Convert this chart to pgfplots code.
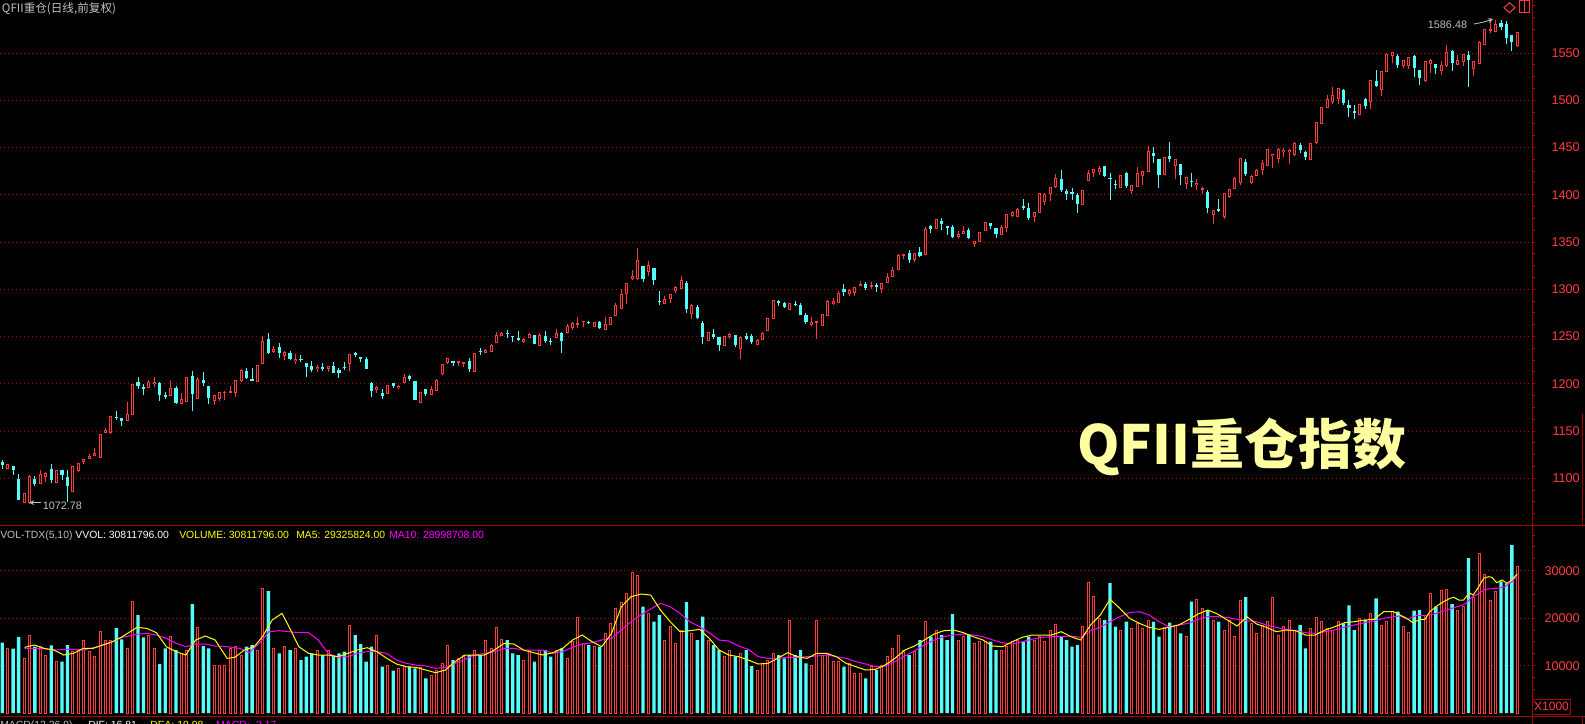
\documentclass[border=0pt]{standalone}
\usepackage{pgfplots}
\pgfplotsset{compat=1.18}
\usepackage{pgfplotstable}
\usepackage{fontspec}
\setmainfont{Liberation Sans}
\newfontfamily\cjk{Noto Sans CJK SC}
\definecolor{cr}{RGB}{255,60,60}
\definecolor{cc}{RGB}{84,252,252}
\definecolor{ax}{RGB}{170,0,0}
\definecolor{gr}{RGB}{160,0,0}
\definecolor{lab}{RGB}{255,60,60}
\definecolor{lg}{RGB}{192,192,192}
\definecolor{by}{RGB}{255,255,160}
\definecolor{ma5}{RGB}{255,255,0}
\definecolor{ma10}{RGB}{255,0,255}
\pgfplotstableread{
i o h l c
1 1109.5 1115.1 1109.5 1115.1
4 1074.2 1084.4 1074.2 1084.4
5 1074.2 1103.5 1072.8 1102.4
7 1094.0 1108.8 1094.0 1104.5
8 1101.7 1106.7 1096.1 1105.3
10 1095.0 1108.8 1095.0 1108.8
13 1085.5 1113.0 1085.5 1113.0
14 1107.7 1116.2 1106.7 1116.2
15 1117.3 1120.8 1115.1 1120.1
16 1120.8 1125.7 1120.8 1124.0
17 1124.0 1132.1 1124.0 1127.1
18 1121.8 1146.9 1121.8 1146.9
19 1148.3 1152.9 1148.3 1151.1
20 1147.6 1166.3 1146.9 1165.6
23 1160.6 1180.7 1160.6 1168.0
24 1167.0 1199.8 1167.0 1199.8
27 1195.5 1203.7 1195.5 1201.9
28 1199.4 1206.8 1196.9 1201.9
31 1187.1 1204.0 1187.1 1195.5
33 1179.0 1189.9 1179.0 1183.9
34 1181.1 1207.2 1181.1 1207.2
36 1183.9 1207.2 1183.9 1205.4
39 1182.1 1188.1 1177.6 1188.1
40 1184.3 1191.3 1181.8 1191.3
41 1189.9 1192.4 1182.8 1191.7
42 1190.6 1197.7 1190.6 1192.7
43 1189.9 1204.0 1186.0 1204.0
44 1202.9 1215.7 1201.9 1214.6
47 1201.9 1219.9 1201.9 1219.9
48 1221.3 1250.2 1221.3 1244.9
50 1233.3 1239.7 1232.6 1237.2
52 1229.8 1234.4 1225.2 1233.7
54 1224.1 1231.2 1221.0 1226.3
58 1215.7 1219.9 1212.5 1218.1
60 1215.7 1218.8 1212.5 1218.8
64 1221.0 1231.5 1213.9 1231.5
69 1193.1 1197.3 1190.3 1196.6
71 1189.6 1198.7 1189.6 1198.7
73 1195.6 1198.4 1194.5 1198.0
74 1200.9 1210.4 1200.9 1207.2
77 1180.0 1191.3 1180.0 1191.3
79 1188.5 1197.3 1188.5 1194.5
80 1192.4 1205.1 1192.4 1204.0
81 1210.4 1221.0 1209.3 1221.0
82 1222.0 1227.3 1221.0 1227.3
84 1222.0 1224.1 1218.8 1224.1
85 1221.0 1223.1 1218.1 1223.1
87 1212.5 1232.6 1212.5 1232.6
89 1232.3 1236.8 1232.3 1235.8
90 1233.7 1242.5 1233.7 1241.1
91 1243.5 1254.5 1243.5 1251.6
92 1250.6 1254.8 1250.6 1254.1
96 1244.5 1248.1 1243.5 1247.4
97 1248.8 1253.7 1248.1 1253.0
99 1239.6 1253.4 1239.6 1251.6
102 1248.8 1257.9 1248.1 1253.7
104 1254.1 1263.2 1254.1 1261.1
105 1259.0 1265.3 1256.9 1264.3
106 1262.2 1270.6 1259.3 1264.3
107 1265.0 1266.4 1260.1 1266.4
109 1260.1 1265.3 1260.1 1265.3
111 1257.2 1270.6 1257.2 1263.2
112 1262.5 1270.6 1262.5 1270.6
113 1271.7 1285.1 1271.7 1283.3
114 1279.1 1300.3 1279.1 1295.0
115 1295.0 1306.6 1284.4 1306.6
116 1310.8 1320.4 1309.8 1314.4
117 1310.8 1343.6 1309.8 1331.0
119 1318.2 1329.9 1314.0 1325.7
122 1284.4 1292.9 1284.4 1289.7
123 1289.7 1294.6 1285.4 1294.6
124 1298.1 1303.4 1296.0 1302.4
125 1300.3 1314.0 1300.3 1309.8
127 1273.8 1284.4 1268.5 1283.3
130 1245.6 1254.8 1245.6 1254.8
133 1240.3 1250.5 1240.3 1250.5
134 1249.5 1253.7 1247.7 1252.6
136 1237.1 1250.5 1226.2 1249.5
139 1241.4 1247.4 1241.4 1246.3
140 1246.7 1254.8 1246.7 1253.7
141 1256.2 1269.6 1256.2 1269.6
142 1268.9 1288.7 1268.9 1288.7
145 1278.4 1285.5 1278.4 1285.5
149 1262.2 1270.7 1261.2 1265.4
150 1264.3 1266.4 1247.4 1266.4
151 1261.2 1273.9 1261.2 1273.9
152 1271.7 1288.7 1271.7 1287.6
153 1284.4 1290.8 1283.4 1287.6
154 1285.5 1298.2 1285.5 1296.1
156 1295.0 1300.3 1292.9 1299.2
157 1296.1 1302.4 1292.9 1302.4
158 1303.5 1308.8 1303.5 1305.6
160 1302.4 1307.7 1300.3 1304.5
162 1300.3 1306.7 1296.1 1306.7
163 1306.7 1317.2 1306.7 1313.0
164 1313.0 1323.6 1313.0 1320.4
165 1320.4 1337.3 1320.4 1336.3
166 1335.2 1337.3 1332.0 1337.3
168 1331.0 1338.4 1328.9 1338.4
170 1336.3 1365.9 1336.3 1363.8
172 1363.8 1374.4 1363.8 1374.4
176 1355.3 1361.7 1354.3 1358.5
177 1358.5 1367.0 1358.5 1361.7
179 1347.9 1351.1 1344.7 1351.1
180 1350.0 1360.6 1350.0 1360.6
181 1362.0 1371.2 1362.0 1371.2
184 1357.8 1368.0 1357.8 1365.9
185 1364.8 1379.7 1360.6 1379.7
186 1377.5 1382.8 1376.5 1381.8
187 1376.8 1386.0 1376.8 1384.9
190 1376.3 1381.6 1371.0 1381.6
191 1380.5 1401.7 1380.5 1401.7
192 1392.2 1401.7 1389.0 1400.6
193 1400.6 1408.0 1393.2 1408.0
194 1408.0 1421.8 1407.0 1417.6
199 1389.0 1404.9 1389.0 1404.9
200 1414.4 1426.0 1414.4 1422.8
201 1422.8 1427.1 1418.6 1427.1
202 1423.9 1430.3 1420.7 1428.1
206 1407.0 1420.7 1407.0 1420.7
208 1403.8 1410.1 1400.6 1410.1
209 1408.0 1429.2 1408.0 1422.8
210 1419.7 1425.0 1410.1 1425.0
211 1423.9 1451.4 1423.9 1446.1
214 1420.7 1439.8 1420.7 1439.8
216 1430.3 1437.7 1416.5 1437.7
218 1411.2 1418.6 1405.9 1418.6
220 1410.1 1416.5 1404.9 1412.3
221 1404.9 1408.0 1400.6 1407.0
223 1378.4 1383.7 1368.9 1383.7
225 1376.3 1401.7 1374.2 1401.7
226 1397.4 1405.9 1396.4 1405.9
227 1405.9 1418.6 1405.9 1417.6
228 1412.3 1438.7 1410.1 1438.7
230 1412.3 1420.7 1411.2 1419.7
231 1419.7 1427.1 1419.7 1426.0
232 1426.0 1436.6 1420.7 1433.4
233 1430.3 1448.2 1430.3 1448.2
234 1440.8 1443.0 1428.1 1443.0
235 1437.7 1449.3 1433.4 1448.2
236 1445.6 1449.9 1440.4 1447.8
237 1445.6 1448.8 1433.0 1447.8
238 1442.5 1456.2 1441.4 1455.2
241 1437.2 1455.2 1437.2 1455.2
242 1455.2 1477.4 1454.1 1477.4
243 1475.3 1493.3 1475.3 1493.3
244 1492.2 1506.0 1492.2 1501.7
245 1498.6 1514.4 1496.4 1506.0
246 1501.7 1513.4 1496.4 1513.4
250 1484.8 1496.4 1484.8 1496.4
252 1498.6 1521.8 1491.1 1521.8
254 1511.2 1531.4 1504.9 1531.4
255 1530.3 1550.4 1530.3 1549.3
256 1547.2 1551.5 1539.8 1551.5
258 1536.6 1543.0 1534.5 1543.0
259 1536.6 1546.2 1533.5 1546.2
262 1520.8 1541.9 1519.7 1541.9
263 1538.8 1544.1 1529.2 1543.0
265 1531.4 1541.9 1527.1 1537.7
266 1536.6 1558.9 1535.6 1551.5
268 1537.7 1548.3 1537.7 1543.0
269 1540.9 1549.3 1536.6 1549.3
271 1533.5 1541.9 1526.1 1541.9
272 1538.8 1563.1 1538.8 1562.0
273 1558.9 1575.8 1558.9 1575.8
274 1573.6 1586.5 1570.8 1575.1
275 1572.6 1584.9 1572.6 1580.7
279 1557.4 1571.9 1556.0 1571.9
}\redt
\pgfplotstableread{
i o h l c
0 1117.6 1119.4 1109.8 1114.1
2 1113.0 1113.0 1103.5 1108.8
3 1099.3 1104.5 1077.0 1077.0
6 1099.3 1102.4 1092.2 1094.0
9 1109.8 1115.1 1095.0 1098.2
11 1108.8 1108.8 1098.2 1103.5
12 1101.4 1108.8 1075.3 1092.2
21 1165.2 1171.2 1161.7 1163.5
22 1163.8 1163.8 1155.3 1160.6
25 1201.9 1206.8 1194.5 1197.7
26 1196.9 1199.4 1188.1 1194.8
29 1200.8 1201.9 1182.1 1188.1
30 1188.1 1191.3 1184.3 1186.0
32 1195.5 1197.7 1178.6 1180.0
35 1208.2 1213.5 1171.6 1189.2
37 1204.0 1212.5 1197.7 1200.8
38 1197.7 1197.7 1179.0 1185.0
45 1213.5 1216.4 1205.1 1206.5
46 1205.1 1216.7 1202.9 1202.9
49 1247.4 1253.8 1231.5 1232.6
51 1238.9 1242.8 1227.3 1232.6
53 1232.6 1234.4 1225.2 1226.3
55 1226.3 1230.5 1223.4 1225.2
56 1222.4 1222.4 1207.6 1218.1
57 1218.8 1224.1 1212.5 1214.6
59 1218.1 1222.0 1213.6 1215.7
61 1218.8 1223.1 1211.8 1211.8
62 1214.3 1216.7 1206.2 1211.8
63 1218.1 1223.1 1214.6 1216.7
65 1232.3 1233.7 1228.7 1230.5
66 1228.4 1228.4 1223.4 1226.3
67 1226.3 1228.4 1215.7 1215.7
68 1200.9 1201.9 1186.0 1192.4
70 1190.6 1194.5 1183.9 1187.1
72 1200.9 1200.9 1195.9 1198.0
75 1208.3 1209.3 1203.0 1205.1
76 1203.0 1203.0 1182.9 1182.9
78 1194.5 1194.5 1187.1 1189.2
83 1224.1 1224.1 1218.8 1222.0
86 1224.1 1227.3 1212.5 1215.7
88 1235.1 1237.9 1230.5 1233.7
93 1254.1 1256.9 1248.8 1252.7
94 1250.6 1250.6 1244.2 1249.2
95 1248.8 1255.8 1245.6 1246.7
98 1251.6 1251.6 1242.4 1242.4
100 1250.5 1255.8 1243.5 1245.2
101 1245.2 1248.8 1241.4 1244.5
103 1253.7 1254.8 1232.2 1245.2
108 1265.0 1266.4 1262.9 1263.9
110 1265.3 1266.4 1257.9 1259.0
118 1324.6 1324.6 1307.7 1310.8
120 1322.5 1322.5 1304.5 1309.8
121 1287.6 1298.1 1283.3 1286.2
126 1306.6 1308.7 1274.9 1279.1
128 1281.2 1283.3 1268.5 1269.6
129 1264.3 1266.4 1242.4 1249.5
131 1252.6 1257.9 1247.7 1249.8
132 1249.5 1249.5 1235.0 1241.0
135 1251.6 1251.6 1238.9 1241.0
137 1250.5 1253.7 1246.3 1247.7
138 1250.5 1252.6 1242.4 1244.5
143 1288.0 1288.7 1282.3 1285.1
144 1285.5 1286.5 1280.2 1281.3
146 1284.4 1287.6 1282.3 1283.4
147 1283.4 1285.5 1272.8 1272.8
148 1272.8 1274.9 1263.3 1265.4
155 1300.3 1305.6 1292.9 1297.1
159 1305.6 1307.7 1299.6 1301.4
161 1304.5 1306.7 1297.1 1302.4
167 1338.4 1341.6 1327.8 1331.0
169 1339.5 1344.7 1334.2 1335.2
171 1367.0 1368.0 1359.6 1364.1
173 1372.3 1375.4 1362.7 1369.1
174 1367.0 1367.0 1357.4 1364.8
175 1365.9 1368.0 1354.3 1355.3
178 1362.7 1364.8 1353.2 1354.3
182 1370.1 1370.1 1363.8 1366.6
183 1364.8 1364.8 1354.3 1358.5
188 1388.5 1395.0 1383.5 1386.3
189 1385.8 1391.1 1373.1 1375.2
195 1416.5 1426.0 1402.7 1404.9
196 1403.8 1405.9 1394.3 1400.6
197 1402.7 1407.0 1394.3 1400.6
198 1399.6 1401.7 1380.5 1390.0
203 1430.3 1430.3 1418.6 1419.7
204 1417.6 1422.8 1394.3 1416.5
205 1411.2 1415.4 1405.9 1410.1
207 1422.8 1423.9 1407.0 1409.1
212 1444.0 1450.4 1433.4 1440.8
213 1437.7 1437.7 1407.0 1420.7
215 1440.8 1455.6 1434.5 1437.7
217 1432.4 1432.4 1410.1 1420.7
219 1414.4 1422.8 1408.0 1413.3
222 1402.7 1404.9 1380.5 1385.8
224 1384.7 1395.3 1381.6 1382.6
229 1434.5 1437.7 1419.7 1421.8
239 1453.1 1455.2 1444.6 1447.8
240 1445.6 1446.7 1437.2 1440.4
247 1511.2 1512.3 1495.4 1497.5
248 1495.4 1500.7 1482.7 1492.2
249 1489.0 1495.4 1480.6 1486.9
251 1501.7 1502.8 1491.1 1494.3
253 1520.8 1532.4 1514.4 1515.5
257 1547.2 1549.3 1534.5 1537.7
260 1547.2 1548.3 1525.0 1534.5
261 1532.4 1532.4 1516.5 1523.9
264 1538.8 1538.8 1528.2 1534.5
267 1552.5 1553.6 1531.4 1539.8
270 1548.3 1552.5 1514.4 1543.0
276 1582.1 1584.9 1574.3 1577.2
277 1580.7 1584.2 1559.2 1565.5
278 1569.0 1569.0 1552.4 1562.0
}\cynt
\pgfplotstableread{
i v
1 13581
4 11616
5 16459
7 14143
8 12248
10 10844
13 13090
14 13511
15 15406
16 12950
17 11897
18 17301
19 15406
20 15406
23 13722
24 23617
27 16459
28 13651
31 16108
33 12599
34 13301
36 18073
39 10142
40 10142
41 10142
42 13651
43 14002
44 12248
47 13301
48 26284
50 13651
52 14143
54 13651
58 13301
60 13301
64 18564
69 16459
71 10142
73 9441
74 9792
77 9651
79 8037
80 8949
81 10493
82 14353
84 11546
85 12248
87 13301
89 15406
90 13651
91 18073
92 15546
96 11195
97 13301
99 13301
102 13301
104 11546
105 15055
106 20178
107 14704
109 14002
111 16810
112 18915
113 22073
114 23266
115 25231
116 29653
117 29091
119 21020
122 15406
123 18213
124 14704
125 17511
127 16810
130 15406
133 11897
134 13301
136 12599
139 9090
140 10493
141 11195
142 12599
145 19617
149 10142
150 19617
151 12248
152 12599
153 10844
154 10844
156 10493
157 8388
158 8388
160 9792
162 10142
163 11897
164 13651
165 16459
166 13301
168 12950
170 19266
172 17511
176 15406
177 16108
179 14704
180 15055
181 15055
184 13301
185 14002
186 15055
187 15406
190 15406
191 16248
192 15055
193 17511
194 18704
199 18213
200 27617
201 24529
202 19968
206 17511
208 17862
209 18915
210 17862
211 19617
214 18073
216 18564
218 16108
220 24038
221 22073
223 19617
225 17511
226 19617
227 16108
228 23828
230 18915
231 16810
232 18564
233 19266
234 24389
235 16459
236 18213
237 19617
238 17511
241 17862
242 20178
243 19266
244 17862
245 17511
246 19266
250 19968
252 21020
254 18564
255 19266
256 21512
258 18358
259 17031
262 20674
263 25242
265 25937
266 26084
268 21726
269 22568
271 24400
272 33726
273 29305
274 23832
275 25726
279 30812
}\redv
\pgfplotstableread{
i v
0 14845
2 13581
3 16038
6 14002
9 14283
11 10844
12 14353
21 17932
22 15546
25 20669
26 15967
29 10353
30 13651
32 13301
35 22985
37 14143
38 13651
45 14002
46 14353
49 25722
51 12599
53 13301
55 11195
56 11897
57 12599
59 12248
61 12248
62 12599
63 12950
65 16459
66 14564
67 10844
68 14002
70 9792
72 8949
75 9792
76 9441
78 7335
83 11195
86 12248
88 12248
93 15406
94 12599
95 12248
98 10844
100 13301
101 11897
103 13651
108 14353
110 14002
118 22424
120 19266
121 20669
126 23407
128 15406
129 20319
131 14353
132 13301
135 11897
137 13301
138 9932
143 12248
144 11546
146 12248
147 13301
148 10493
155 9792
159 7335
161 9090
167 12248
169 15406
171 16108
173 16459
174 15406
175 20880
178 16459
182 15055
183 13301
188 15055
189 16108
195 16108
196 15406
197 14002
198 14353
203 19617
204 27407
205 18213
207 19266
212 19266
213 16108
215 19055
217 16810
219 23477
222 21722
224 19266
229 24459
239 18564
240 13651
247 18915
248 22705
249 17511
251 19617
253 24178
257 21371
260 21579
261 21726
264 22421
267 22989
270 32674
276 27768
277 27347
278 35410
}\cynv
\pgfplotsset{
  panel/.style={scale only axis, width=1149pt, xmin=-0.4236, xmax=281.71,
    axis x line=none, axis y line*=right,
    axis line style={draw=ax, line width=0.75pt},
    tick style={draw=ax, line width=0.75pt},
    tick align=outside, major tick length=2.25pt, minor tick length=2.25pt,
    ymajorgrids, grid style={draw=gr, line width=0.75pt, dash pattern=on 0.75pt off 2.25pt},
    yticklabel pos=right,
    yticklabel style={anchor=east, inner sep=0pt, xshift=33.75pt, text=lab, font=\fontsize{9.5}{10}\selectfont},
    /pgf/number format/1000 sep={}, /pgf/number format/assume math mode=true,
    scaled y ticks=false},
  wick/.style={forget plot, draw=none, mark=none, error bars/.cd, y dir=plus, y explicit, error mark=none, error bar style={line width=0.75pt, draw=#1}},
  body/.style 2 args={forget plot, draw=none, mark=none, error bars/.cd, y dir=plus, y explicit, error mark=none, error bar style={line width=#2, draw=#1}},
}
\begin{document}
\begin{tikzpicture}
\path[use as bounding box, fill=black] (0,0) rectangle (1188.75pt,-543pt);
% price panel
\begin{axis}[panel, at={(0pt,0pt)}, anchor=north west, height=394.275pt,
  ymin=1049.8, ymax=1606.1, ytick={1100,1150,...,1550}, minor ytick={1062.5,1075,...,1600}]
\addplot[wick=cr] table[x=i, y=l, y error plus expr=\thisrow{h}-\thisrow{l}, y error minus expr=0] \redt;
\addplot[wick=cc] table[x=i, y=l, y error plus expr=\thisrow{h}-\thisrow{l}, y error minus expr=0] \cynt;
\addplot[body={cr}{2.25pt}] table[x=i, y expr={min(\thisrow{o},\thisrow{c})}, y error plus expr={max(abs(\thisrow{c}-\thisrow{o}),0.9)}, y error minus expr=0] \redt;
\addplot[body={black}{0.75pt}] table[x=i, y expr={min(\thisrow{o},\thisrow{c})+1.06}, y error plus expr={max(abs(\thisrow{c}-\thisrow{o})-2.12,0)}, y error minus expr=0] \redt;
\addplot[body={cc}{2.4pt}] table[x=i, y expr={min(\thisrow{o},\thisrow{c})}, y error plus expr={max(abs(\thisrow{c}-\thisrow{o}),0.9)}, y error minus expr=0] \cynt;
\end{axis}
% volume panel
\begin{axis}[panel, at={(0pt,-394.275pt)}, anchor=north west, height=142.725pt,
  ymin=-589, ymax=39474, ytick={10000,20000,30000}, minor ytick={2500,5000,...,37500}]
\addplot[ybar, bar shift=0pt, bar width=1.5pt, draw=cr, line width=0.75pt, fill=black, forget plot] table[x=i, y=v] \redv;
\addplot[ybar, bar shift=0pt, bar width=2.5pt, draw=none, fill=cc, forget plot] table[x=i, y=v] \cynv;
\addplot[ma10, line width=0.75pt, mark=none, forget plot] coordinates {
(4.1,13652) (6.8,13652) (9.5,13301) (12.2,13441) (14.9,13301) (17.6,14002) (20.3,15055) (22.1,15967) (24.8,16599) (26.6,16810) (28.4,16459) (30.2,15757) (32.0,14704) (33.8,14002) (35.6,14564) (37.4,14564) (39.2,14143) (41.4,14002) (43.7,13652) (45.5,12739) (47.3,14704) (49.1,17160) (51.0,17371) (52.8,17160) (54.6,16950) (56.4,16950) (58.2,15406) (60.0,12599) (61.8,11756) (63.6,11897) (65.4,12599) (67.2,12950) (69.0,12950) (70.8,12599) (72.6,11195) (74.4,10494) (76.2,10143) (78.0,9932) (79.8,9441) (81.6,9651) (83.4,10494) (85.2,11335) (87.0,12248) (88.8,12599) (90.6,12950) (92.4,13652) (94.2,13652) (96.0,13301) (97.8,13301) (99.6,13301) (101.4,12599) (103.2,12950) (105.0,13862) (106.8,14564) (108.6,14844) (110.4,15406) (112.2,15757) (114.0,17511) (115.8,19266) (117.6,20669) (119.4,21933) (121.2,23126) (123.0,22424) (124.8,21020) (126.6,19266) (128.4,18213) (130.2,16950) (132.0,15406) (133.8,15195) (135.6,14143) (137.4,13441) (139.2,11897) (141.0,11546) (142.8,11546) (144.6,11756) (146.4,11756) (148.2,11897) (150.0,12037) (151.8,12248) (153.6,11897) (155.4,11546) (157.2,10844) (159.0,10353) (160.8,9792) (162.6,9932) (164.4,10844) (166.2,12037) (168.0,13160) (169.8,14353) (171.6,15406) (173.4,16108) (175.2,16459) (177.0,16669) (178.8,16459) (180.6,16108) (182.4,15406) (184.2,14844) (186.0,14564) (187.8,15055) (189.6,15546) (191.4,15967) (193.2,16108) (195.0,16108) (196.8,16248) (198.6,15967) (200.4,17371) (202.2,18073) (204.0,19266) (205.8,20318) (207.6,21161) (209.4,21371) (211.2,20669) (213.0,19266) (214.8,18213) (216.6,18564) (218.4,18915) (220.2,19758) (222.0,20318) (223.8,20318) (225.6,20178) (227.4,19758) (229.2,19477) (231.0,19266) (232.8,18564) (234.6,18073) (236.4,17650) (238.2,17371) (240.0,16950) (241.8,16810) (243.6,17160) (245.4,17511) (247.2,18073) (249.0,18564) (250.8,19055) (252.6,19407) (254.4,19968) (256.2,20318) (257.4,20464) (258.9,19762) (260.5,20604) (262.3,20604) (264.2,21032) (266.0,21727) (267.9,22422) (269.4,22990) (270.6,24400) (271.9,25242) (273.1,26084) (275.2,26295) (276.7,26632) (278.0,27684) (279.0,28999)};
\addplot[ma5, line width=0.75pt, mark=none, forget plot] coordinates {
(4.1,13862) (5.9,14353) (7.7,13652) (9.5,13301) (11.3,12248) (13.1,12599) (14.9,13652) (16.7,13652) (18.5,14353) (20.3,15055) (22.1,16108) (24.8,18073) (26.6,17862) (28.4,16950) (30.2,14002) (32.0,12950) (33.8,12248) (35.6,15406) (37.4,16248) (39.2,15406) (41.4,11546) (42.8,11756) (44.6,13301) (46.4,14002) (47.9,16108) (49.7,19617) (51.5,21020) (52.8,18213) (54.6,14002) (56.4,12599) (58.2,12248) (60.0,12248) (61.8,11897) (63.6,12599) (65.4,13301) (67.2,13792) (69.0,12950) (70.8,11546) (72.6,10353) (74.4,9792) (76.2,9651) (78.0,9090) (79.8,8528) (81.6,9090) (83.4,10844) (85.2,12248) (87.0,12248) (88.8,12248) (90.6,13301) (92.4,14704) (94.2,14564) (96.0,13301) (97.8,12739) (99.6,12248) (101.4,12739) (103.2,13652) (105.0,15406) (106.8,16459) (108.6,15055) (110.4,14002) (112.2,16810) (114.0,22424) (115.8,24529) (117.6,25090) (119.4,24880) (121.2,21722) (123.0,19266) (124.8,17160) (126.6,17371) (128.4,17650) (130.2,15757) (132.0,13301) (133.8,12248) (135.6,11897) (137.4,11195) (139.2,10353) (141.0,10494) (142.8,11546) (144.6,12739) (146.4,11897) (148.2,11546) (150.0,12599) (151.8,12599) (153.6,11897) (155.4,10494) (157.2,9792) (159.0,9090) (160.8,9230) (162.6,10143) (164.4,11546) (166.2,13301) (168.0,14143) (169.8,15406) (171.6,16669) (173.4,17371) (175.2,17511) (177.0,16950) (178.8,16108) (180.6,15406) (182.4,14143) (184.2,14002) (186.0,15055) (187.8,15967) (189.6,16459) (191.4,16459) (193.2,16459) (195.0,17160) (196.8,16108) (198.6,15406) (200.4,18564) (202.2,20669) (204.0,23968) (205.8,22073) (207.6,19968) (209.4,18915) (211.2,18073) (213.0,17650) (214.8,18073) (216.6,18564) (218.4,19617) (220.2,20880) (222.0,21722) (223.8,20880) (225.6,19617) (227.4,18354) (229.2,20318) (231.0,18775) (232.8,18073) (234.6,17160) (236.4,17511) (238.2,17371) (240.0,16459) (241.8,16459) (243.6,17511) (245.4,18213) (247.2,19055) (249.0,19266) (250.8,19617) (252.6,19758) (254.4,21371) (256.2,21371) (257.4,20674) (258.6,19979) (259.8,19053) (261.1,19768) (262.0,19768) (262.9,21369) (264.2,22569) (265.4,23474) (266.6,24190) (267.3,24400) (268.2,23832) (269.1,23832) (269.7,24674) (270.3,25242) (270.9,24885) (271.9,26632) (272.8,28400) (273.7,28737) (274.3,28611) (275.2,27474) (276.2,28043) (277.1,27347) (278.0,28043) (279.0,29326)};
\end{axis}
\begin{scope}[x=0.75pt, y=-0.75pt]
\draw[ax, line width=0.75pt] (0,525.7) -- (1585,525.7);
\draw[ax, line width=0.75pt] (0,716) -- (1585,716);
\draw[ax, line width=0.75pt] (1532,0) -- (1532,724);
\draw[ax, line width=0.75pt] (1582.7,413) -- (1582.7,525.7);
\draw[ax, line width=0.75pt] (1582.7,716) -- (1582.7,724);
\draw[ax, line width=0.75pt] (1532.3,699.3) rectangle (1570.7,714);
\node[text=lab, font=\fontsize{9}{10}\selectfont, inner sep=0pt] at (1551.5,706.8) {X1000};
\draw[cr, line width=0.75pt] (1509.5,2.7) -- (1515,7.7) -- (1509.5,12.7) -- (1504,7.7) -- cycle;
\draw[cr, line width=0.75pt] (1519,1) rectangle (1529,13) (1524,1) -- (1524,13);
\node[anchor=base west, inner sep=0pt, text=lg, font=\cjk\fontsize{8.7}{9}\selectfont] at (1.7,12.5) {QFII重仓(日线,前复权)};
\node[anchor=base west, inner sep=0pt, text=by, font=\cjk\bfseries\fontsize{40.5}{41}\selectfont] at (1077,464) {QFII重仓指数};
\node[anchor=base west, inner sep=0pt, text=lg, font=\fontsize{8.1}{9}\selectfont] at (1427.7,29) {1586.48};
\draw[lg, line width=0.6pt, -stealth] (1474,24) -- (1484,22) -- (1493,19);
\node[anchor=base west, inner sep=0pt, text=lg, font=\fontsize{8.1}{9}\selectfont] at (42.7,509) {1072.78};
\draw[lg, line width=0.6pt, -stealth] (40.7,502.7) -- (29.3,502.7);
\begin{scope}[font=\fontsize{7.8}{9}\selectfont]
\node[anchor=base west, inner sep=0pt, text=white] at (0,538) {\textcolor{lg}{VOL-TDX(5,10)} VVOL: 30811796.00};
\node[anchor=base west, inner sep=0pt, text=ma5] at (179,538) {VOLUME: 30811796.00};
\node[anchor=base west, inner sep=0pt, text=ma5] at (296,538) {MA5: 29325824.00};
\node[anchor=base west, inner sep=0pt, text=ma10] at (389,538) {MA10: 28998708.00};
\node[anchor=base west, inner sep=0pt, text=lg] at (0,728.6) {MACD(12,26,9)};
\node[anchor=base west, inner sep=0pt, text=white] at (88,728.6) {DIF: 16.81};
\node[anchor=base west, inner sep=0pt, text=ma5] at (150,728.6) {DEA: 19.98};
\node[anchor=base west, inner sep=0pt, text=ma10] at (216,728.6) {MACD: -3.17};
\end{scope}
\end{scope}
\end{tikzpicture}
\end{document}
